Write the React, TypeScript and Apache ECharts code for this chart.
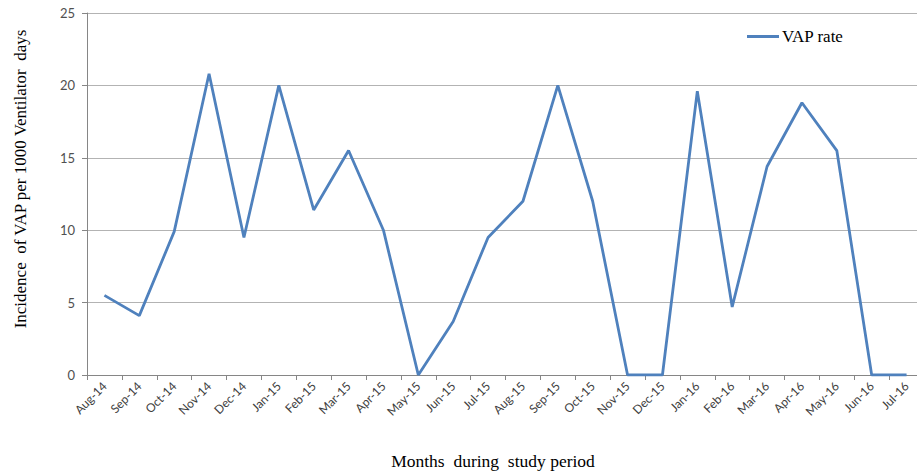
import React, { useEffect, useRef } from "react";
import * as echarts from "echarts";

const months = [
  "Aug-14", "Sep-14", "Oct-14", "Nov-14", "Dec-14", "Jan-15", "Feb-15", "Mar-15",
  "Apr-15", "May-15", "Jun-15", "Jul-15", "Aug-15", "Sep-15", "Oct-15", "Nov-15",
  "Dec-15", "Jan-16", "Feb-16", "Mar-16", "Apr-16", "May-16", "Jun-16", "Jul-16",
];
const vapRate = [
  5.5, 4.1, 9.9, 20.8, 9.5, 20.0, 11.4, 15.5,
  10.0, 0, 3.7, 9.5, 12.0, 20.0, 12.0, 0,
  0, 19.6, 4.7, 14.4, 18.8, 15.5, 0, 0,
];
const yTitle = "Incidence  of VAP per 1000 Ventilator  days";
const xTitle = "Months  during  study period";
const seriesName = "VAP rate";

export default function App() {
  const ref = useRef<HTMLDivElement>(null);
  useEffect(() => {
    if (!ref.current) return;
    const chart = echarts.init(ref.current, null, { renderer: "svg" });
    chart.setOption({
      animation: false,
      backgroundColor: "#ffffff",
      grid: { left: 87, top: 13, bottom: 98, right: 6, containLabel: false },
      legend: {
        data: [seriesName],
        left: 742,
        top: 23,
        icon: "rect",
        itemWidth: 32,
        itemHeight: 3,
        itemGap: 4,
        textStyle: { fontFamily: "Liberation Serif", fontSize: 17, color: "#000", padding: [0, 0, 0, -2] },
      },
      xAxis: {
        type: "category",
        data: months,
        boundaryGap: true,
        axisLine: { lineStyle: { color: "#868686", width: 1 } },
        axisTick: { show: true, length: 5, alignWithLabel: false, lineStyle: { color: "#868686" } },
        axisLabel: {
          rotate: 45,
          interval: 0,
          margin: 9,
          fontFamily: "Lato",
          fontSize: 12,
          color: "#404040",
        },
      },
      yAxis: {
        type: "value",
        min: 0,
        max: 25,
        interval: 5,
        axisLine: { show: true, lineStyle: { color: "#868686", width: 1 } },
        axisTick: { show: true, length: 5, lineStyle: { color: "#868686" } },
        splitLine: { lineStyle: { color: "#b3b3b3", width: 1 } },
        axisLabel: { fontFamily: "Lato", fontSize: 13, color: "#505050", margin: 12 },
      },
      graphic: [
        {
          type: "text",
          x: 20,
          y: 179,
          rotation: Math.PI / 2,
          style: {
            text: yTitle,
            fontFamily: "Liberation Serif",
            fontSize: 17,
            fill: "#000",
            textAlign: "center",
            textVerticalAlign: "middle",
          },
        },
        {
          type: "text",
          x: 493,
          y: 461,
          style: {
            text: xTitle,
            fontFamily: "Liberation Serif",
            fontSize: 17.5,
            fill: "#000",
            textAlign: "center",
            textVerticalAlign: "middle",
          },
        },
      ],
      series: [
        {
          name: seriesName,
          type: "line",
          data: vapRate,
          symbol: "none",
          lineStyle: { color: "#4F81BD", width: 2.8 },
          itemStyle: { color: "#4F81BD" },
        },
      ],
    });
    return () => chart.dispose();
  }, []);
  return (
    <div
      ref={ref}
      style={{ position: "fixed", left: 0, top: 0, width: 930, height: 473 }}
    />
  );
}
